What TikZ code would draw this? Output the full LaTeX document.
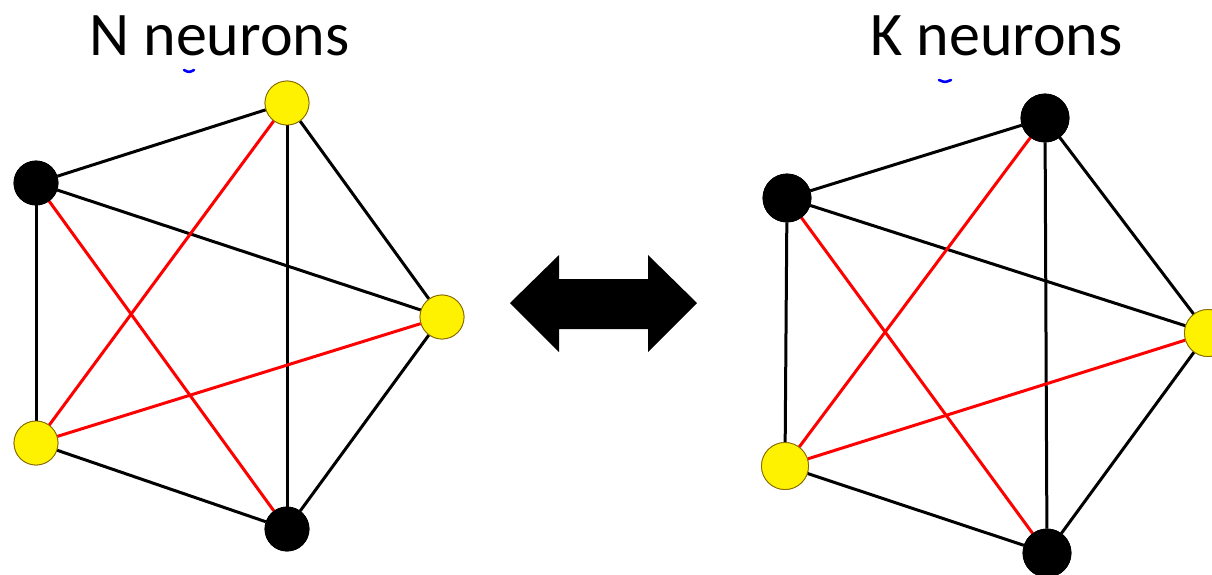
\documentclass[tikz,border=0pt]{standalone}
\usepackage{fontspec}
\setmainfont{Carlito}
\begin{document}
\begin{tikzpicture}[x=1pt,y=-1pt,
  neuron/.style={circle,draw=black!80!red!60!yellow,line width=0.8pt,minimum size=#1,inner sep=0pt},
  on/.style={neuron=44pt,fill=yellow},
  off/.style={neuron=44pt,fill=black,draw=black},
  onR/.style={neuron=47pt,fill=yellow},
  offR/.style={neuron=48pt,fill=black,draw=black},
  edge/.style={line width=3pt,black},
  redge/.style={line width=3pt,red},
  title/.style={anchor=base,inner sep=0pt,font=\fontsize{62}{70}\selectfont},
  tick/.style={blue,line width=2.6pt,line cap=round}]
\useasboundingbox (0,0) rectangle (1212,574);
\clip (0,0) rectangle (1212,574);
\fill[white] (0,0) rectangle (1212,574);

% titles
\node[title] (tN) at (219.5,55) {N neurons};
\node[title] (tK) at (996.5,55) {K neurons};

% small blue marks under the titles
\draw[tick] (184,70) .. controls (189,72.5) .. (194,70);
\draw[tick] (939,80) .. controls (945,82.5) .. (951,80);

% left network
\node[off] (a) at (36,183) {};
\node[on]  (b) at (287,103) {};
\node[on]  (c) at (442,317) {};
\node[off] (d) at (287,529) {};
\node[on]  (e) at (36,443) {};

% right network
\node[offR] (a2) at (787,198) {};
\node[offR] (b2) at (1045,118) {};
\node[onR]  (c2) at (1208,333) {};
\node[offR] (d2) at (1047,553) {};
\node[onR]  (e2) at (785,466) {};

% connections: pentagon sides and diagonals
\foreach \s in {,2}{
  \draw[edge] (a\s) -- (b\s);
  \draw[edge] (b\s) -- (c\s);
  \draw[edge] (c\s) -- (d\s);
  \draw[edge] (d\s) -- (e\s);
  \draw[edge] (e\s) -- (a\s);
  \draw[edge] (a\s) -- (c\s);
  \draw[edge] (b\s) -- (d\s);
  \draw[redge] (a\s) -- (d\s);
  \draw[redge] (b\s) -- (e\s);
  \draw[redge] (c\s) -- (e\s);
}

% redraw neurons above the connections
\node[off] at (a) {};
\node[on]  at (b) {};
\node[on]  at (c) {};
\node[off] at (d) {};
\node[on]  at (e) {};
\node[offR] at (a2) {};
\node[offR] at (b2) {};
\node[onR]  at (c2) {};
\node[offR] at (d2) {};
\node[onR]  at (e2) {};

% double-headed block arrow between the networks
\coordinate (arrL) at (510,303);
\coordinate (arrR) at (697,303);
\fill[black] (arrL) -- (559,255) -- (559,279) -- (648,279) -- (648,255)
  -- (arrR) -- (648,352) -- (648,329) -- (559,329) -- (559,352) -- cycle;
\end{tikzpicture}
\end{document}
